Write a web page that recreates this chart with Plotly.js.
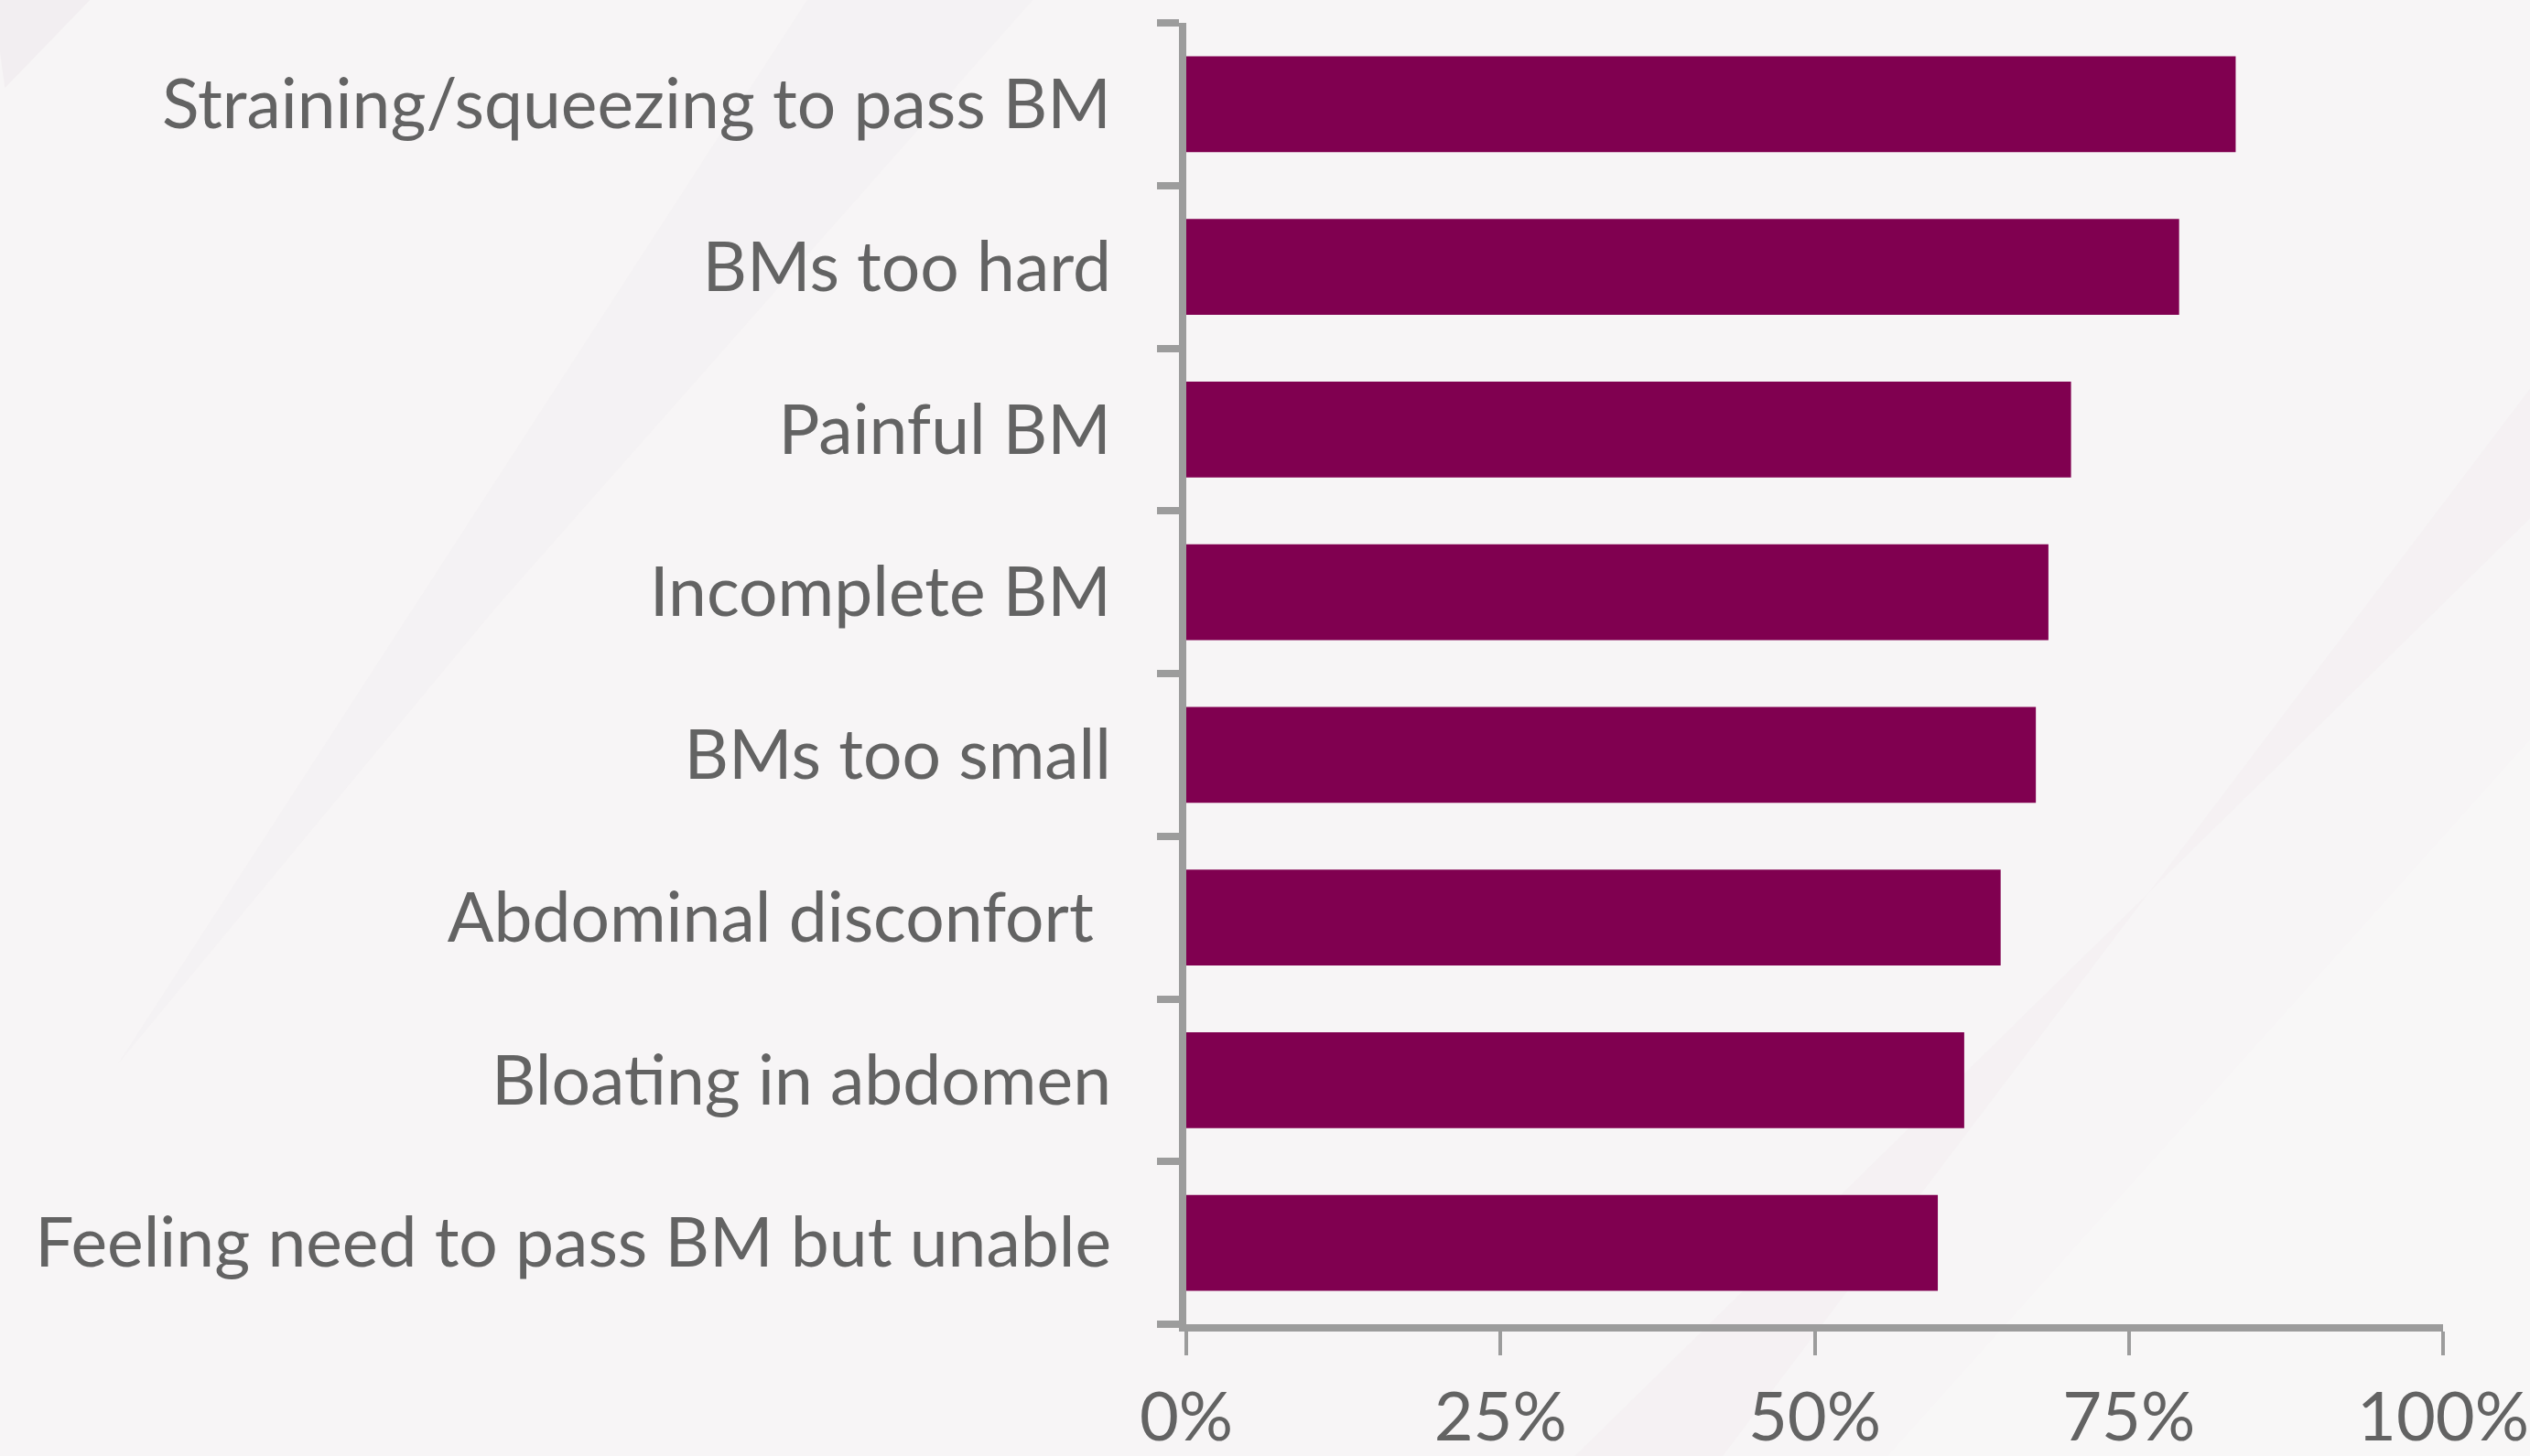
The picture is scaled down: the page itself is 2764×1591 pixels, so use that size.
<!DOCTYPE html>
<html>
<head>
<meta charset="utf-8">
<script src="https://cdn.plot.ly/plotly-3.0.1.min.js"></script>
<style>
  html, body { margin: 0; padding: 0; background: #f7f5f6; }
  #chart { width: 2764px; height: 1591px; }
</style>
</head>
<body>
<div id="chart"></div>
<script>
// Categories, listed bottom to top as Plotly draws them
const categories = [
  "Feeling need to pass BM but unable",
  "Bloating in abdomen",
  "Abdominal disconfort\u00a0",
  "BMs too small",
  "Incomplete BM",
  "Painful BM",
  "BMs too hard",
  "Straining/squeezing to pass BM"
];
// Percent of respondents
const percentValues = [59.8, 61.9, 64.8, 67.6, 68.6, 70.4, 79.0, 83.5];
const xTickValues = [0, 25, 50, 75, 100];
const xTickLabels = ["0%", "25%", "50%", "75%", "100%"];

const barColor = "#800050";
const axisColor = "#9c9c9c";
const textColor = "#636363";
const fontFamily = "Lato, 'Open Sans', sans-serif";

const trace = {
  type: "bar",
  orientation: "h",
  y: categories,
  x: percentValues,
  marker: { color: barColor, line: { width: 0 } },
  hoverinfo: "skip"
};

const layout = {
  width: 2764,
  height: 1591,
  paper_bgcolor: "#f7f5f6",
  plot_bgcolor: "rgba(0,0,0,0)",
  margin: { l: 1296, r: 95, t: 25, b: 144 },
  showlegend: false,
  bargap: 0.41,
  font: { family: fontFamily, color: textColor, size: 75 },
  xaxis: {
    range: [0, 100],
    tickvals: xTickValues,
    ticktext: xTickLabels,
    showgrid: false,
    zeroline: false,
    showline: true,
    linecolor: axisColor,
    linewidth: 8,
    ticks: "outside",
    ticklen: 26,
    tickwidth: 4,
    tickcolor: axisColor,
    ticklabelstandoff: 4,
    tickfont: { family: fontFamily, color: textColor, size: 74 },
    fixedrange: true
  },
  yaxis: {
    type: "category",
    categoryorder: "array",
    categoryarray: categories,
    showgrid: false,
    zeroline: false,
    showline: true,
    linecolor: axisColor,
    linewidth: 8,
    ticks: "outside",
    tickson: "boundaries",
    ticklen: 24,
    tickwidth: 8,
    tickcolor: axisColor,
    ticklabelstandoff: 59,
    tickfont: { family: fontFamily, color: textColor, size: 75 },
    fixedrange: true
  },
  shapes: [
    { type: "path", xref: "paper", yref: "paper", layer: "below",
      path: "M -0.95 1.02 L -0.87 1.02 L -0.94 0.95 Z",
      fillcolor: "rgba(238,232,236,0.5)", line: { width: 0 } },
    { type: "path", xref: "paper", yref: "paper", layer: "below",
      path: "M -0.3 1.02 L -0.12 1.02 L -0.55 0.55 L -0.85 0.2 Z",
      fillcolor: "rgba(240,235,238,0.3)", line: { width: 0 } },
    { type: "path", xref: "paper", yref: "paper", layer: "below",
      path: "M 0.3 -0.11 L 0.42 -0.11 L 1.07 0.72 L 1.07 0.62 Z",
      fillcolor: "rgba(240,235,239,0.35)", line: { width: 0 } },
    { type: "path", xref: "paper", yref: "paper", layer: "below",
      path: "M 0.55 -0.11 L 1.07 -0.11 L 1.07 0.45 Z",
      fillcolor: "rgba(255,255,255,0.2)", line: { width: 0 } }
  ]
};

Plotly.newPlot("chart", [trace], layout, { staticPlot: true, displayModeBar: false });
</script>
</body>
</html>
